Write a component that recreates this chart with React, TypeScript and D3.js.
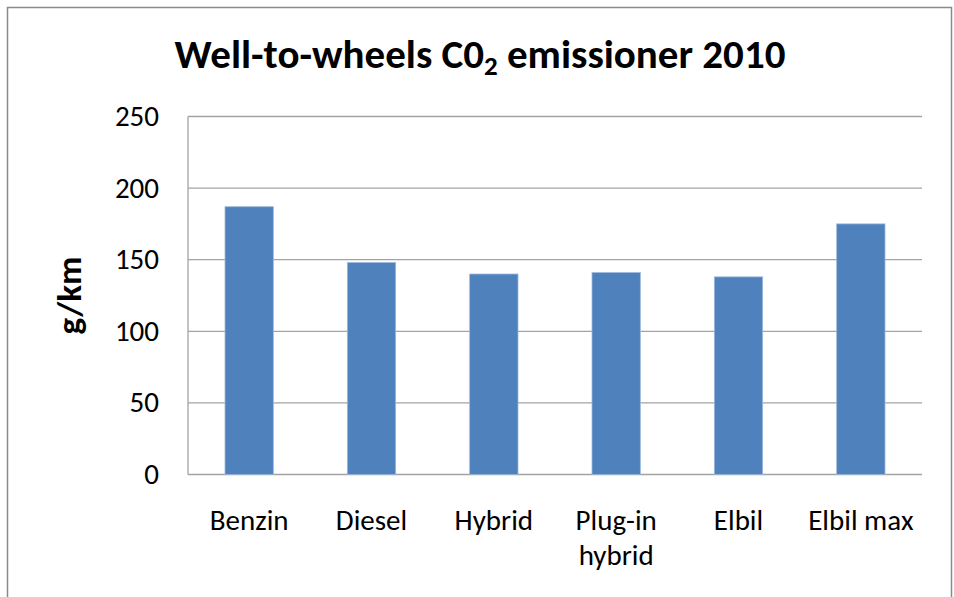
import React from "react";
import * as d3 from "d3";

// chart data
const categories = ["Benzin", "Diesel", "Hybrid", "Plug-in hybrid", "Elbil", "Elbil max"];
const labelLines = [["Benzin"], ["Diesel"], ["Hybrid"], ["Plug-in", "hybrid"], ["Elbil"], ["Elbil max"]];
const values = [187, 148, 140, 141, 138, 175];
const yTicks = [0, 50, 100, 150, 200, 250];

const W = 954;
const H = 597;
const plot = { left: 188, right: 922, top: 116.5, bottom: 474.5 };
const font = "Carlito, Lato, sans-serif";

export default function App() {
  const x = d3
    .scaleBand<string>()
    .domain(categories)
    .range([plot.left, plot.right])
    .paddingInner(0.605)
    .paddingOuter(0.3025);

  const y = d3.scaleLinear().domain([0, 250]).range([plot.bottom, plot.top]);

  return (
    <svg
      width={W}
      height={H}
      style={{ position: "absolute", left: 0, top: 0, background: "#fff" }}
      fontFamily={font}
    >
      {/* outer chart border */}
      <rect x={7.5} y={7.5} width={944} height={620} fill="none" stroke="#8a8a8a" strokeWidth={1.5} />

      {/* title */}
      <text x={480} y={68} textAnchor="middle" fontSize={41} fontWeight="bold" fill="#000">
        Well-to-wheels C0
        <tspan fontSize={27} dy={7}>2</tspan>
        <tspan dy={-7}> emissioner 2010</tspan>
      </text>

      {/* gridlines */}
      {yTicks.map((t) => (
        <line
          key={t}
          x1={plot.left}
          x2={plot.right}
          y1={y(t)}
          y2={y(t)}
          stroke="#a3a3a3"
          strokeWidth={1.3}
        />
      ))}
      {/* y axis line */}
      <line x1={plot.left} x2={plot.left} y1={plot.top} y2={plot.bottom} stroke="#a3a3a3" strokeWidth={1.3} />

      {/* y tick labels */}
      {yTicks.map((t) => (
        <text key={t} x={159} y={y(t) + 9.5} textAnchor="end" fontSize={29} fill="#000">
          {t}
        </text>
      ))}

      {/* y axis title */}
      <text
        transform={`translate(81, ${(plot.top + plot.bottom) / 2}) rotate(-90)`}
        textAnchor="middle"
        fontSize={35}
        fontWeight="bold"
        fill="#000"
      >
        g/km
      </text>

      {/* bars */}
      {categories.map((c, i) => (
        <rect
          key={c}
          x={x(c)}
          y={y(values[i])}
          width={x.bandwidth()}
          height={y(0) - y(values[i])}
          fill="#4f81bd"
          stroke="#9bb8dc"
          strokeWidth={0.8}
        />
      ))}

      {/* category labels */}
      {categories.map((c, i) => (
        <text key={c} x={(x(c) ?? 0) + x.bandwidth() / 2} y={530} textAnchor="middle" fontSize={29} fill="#000">
          {labelLines[i].map((ln, j) => (
            <tspan key={j} x={(x(c) ?? 0) + x.bandwidth() / 2} dy={j === 0 ? 0 : 35}>
              {ln}
            </tspan>
          ))}
        </text>
      ))}
    </svg>
  );
}
